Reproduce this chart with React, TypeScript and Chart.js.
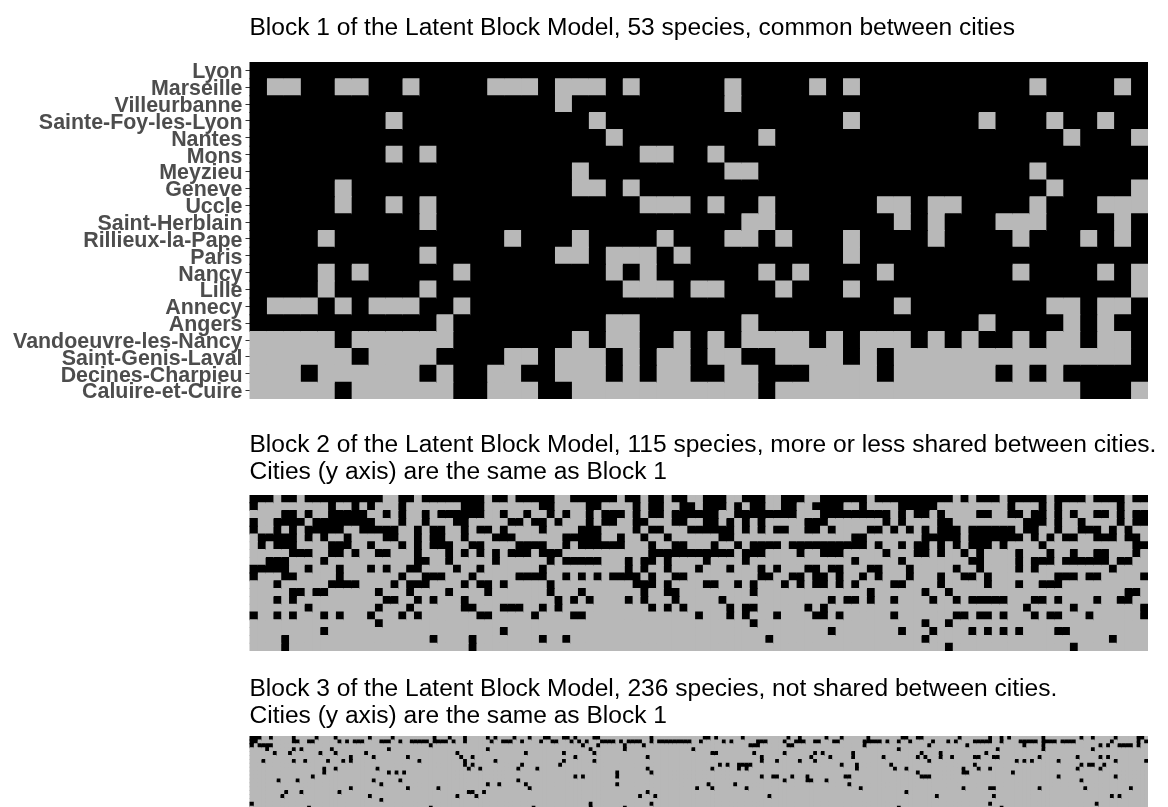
import React, { useEffect, useRef } from "react";
import { Chart, registerables } from "chart.js";

Chart.register(...registerables);

const cities = [
  "Lyon", "Marseille", "Villeurbanne", "Sainte-Foy-les-Lyon", "Nantes", "Mons", "Meyzieu", "Geneve", "Uccle", "Saint-Herblain",
  "Rillieux-la-Pape", "Paris", "Nancy", "Lille", "Annecy", "Angers", "Vandoeuvre-les-Nancy", "Saint-Genis-Laval", "Decines-Charpieu", "Caluire-et-Cuire",
];

const block1Title = "Block 1 of the Latent Block Model, 53 species, common between cities";
const block2Title = ["Block 2 of the Latent Block Model, 115 species, more or less shared between cities.", "Cities (y axis) are the same as Block 1"];
const block3Title = ["Block 3 of the Latent Block Model, 236 species, not shared between cities.", "Cities (y axis) are the same as Block 1"];

// Block 1: columns where a species is absent (grey) for the first 16 cities.
const block1AbsentTop = [
  "",
  "1 2 5 6 9 14-16 18-20 22 28 33 35 46 51",
  "18 28",
  "8 20 35 43 47 50",
  "21 30 48 52",
  "8 10 23 24 27",
  "19 28 29 46",
  "5 19 20 22 47 52",
  "5 8 10 23-25 27 30 37 38 40 41 46 50-52",
  "10 29 30 38 40 44-46 51",
  "4 15 19 24 28 29 31 35 40 45 49 51",
  "10 18 19 21-23 25 35",
  "4 6 12 21 23 30 32 37 45 50 52",
  "4 10 22-24 26 27 31 35 52",
  "1-3 5 7-9 12 38 47 48 50 51",
  "11 21 22 29 43 48 50",
];
// Block 1: columns where a species is present (black) for the last 4 cities.
const block1PresentBottom = [
  "5 12-18 20 23 24 26 28 33 35 39 41 43 44 46 49 52",
  "6 11-14 17 21 23 26 29 30 35 37 52",
  "3 10 12 13 16 17 21 23 26 27 30-32 37 44 46 48-52",
  "5 12 13 17 18 30 49-51",
];

// Block 2: columns where a species is present, per city.
const block2Present = [
  "0-2 4 5 7-16 19 20 22-29 31 32 34-38 41-46 48 49 51 52 54 55 58-60 63-65 68-70 73-78 80-89 91 93-95 97-101 103-106 108-111 113 114",
  "0 10 13 15 19 27-29 37 38 43 44 49 51 52 55 56 58-60 62 64 65 68 69 72-75 78 83-87 97 101 103 111",
  "4 5 7 10-14 17 19 22 24-29 32 35 38 40 43 45-47 49 51 52 54-59 62-69 73-81 83 85 86 88 93 94 97 98 100 101 103 105 108 109 111 113 114",
  "0 3-6 8-15 19 22 26 27 33 34 36 37 39 43 45 46 49 50 54 55 58 59 61 63 65 71-73 81 83 88 89 99-101 103 106 111 113 114",
  "0 3 5 7-11 14-18 21 23 24 27 29 30 32 37 42-44 49 51 52 56-61 63 65 67 68 71 72 74 79 80 82 84 86 88-90 92-97 99 100 103 106-108 110 112",
  "1-5 7 9 12 17 18 21 23 24 27 31-33 40-44 47 50 53 60 61 77 78 86-90 92-98 100 102 104 105 108-110 112 113",
  "1 3-5 10-12 15 19 21 23-25 28 29 34-37 40 42-47 51 54 55 59 62 64-67 69-78 80 83 85 86 88 90 92-94 96 101 113 114",
  "5-7 10 11 13 16 17 21 25 27 29 31 33-35 37-39 51-61 63-65 70 73-75 81 85 86 88 91 93 98 102 105 108 109 113",
  "2-4 9 21 22 25 31 38 40-44 48 50 51 53 58 63 77 83 92 93 98 100-102 104-109 111 112",
  "0-4 7 11 15 17 20 21 26 29 37 48 50 53 57 61 65 67 71 72 74 75 79 80 84 90 93 98 100 110",
  "0 4 5 11 19 22-24 28 34-37 40 42 44 46-49 51 54 55 65 66 69 70 72 73 75 78 80 84 88 91 92 94 103-105 107 108 114",
  "3 10-13 18 20-22 27 29 30 32 38 49-51 53 58 59 62 64 68 70 72 73 75 77 82 83 88 94 98 101-103",
  "5 6 8 9 16 20 25 30 38 42 50 53 54 64 79 86 89 112 113",
  "3 5 17 18 21 23 27 39 41 43 48 50 54 60 74 76 77 79 82 87 90 92-96 100 101 103 108 111 112",
  "7 16 20 27 28 32-34 37 39 51 53 55 61 63 64 71 73 99 105 114",
  "0 3 5 9 11 15 19 21 29 30 36 41 42 57 61 63 67 72 73 75 82 90 91 93 94 96 100 102 103 107 114",
  "16 64 86 89",
  "9 32 74 83 87 92 94 96 98 103 104",
  "4 23 28 37 40 66 86 110",
  "4 28 89 105",
];

// Block 3: columns where a species is present, per city.
const block3Present = [
  "0-2 5 11 17 22 31 37 48 52 56 62 64 69 73 77 78 82 83 85 90 91 105 119 120 122 129 141 144 151 155 162 171 172 175 176 186 194 197 199 208 218 221 227 233 234",
  "0 1 11 12 15 16 23 25 27-29 34-36 39 42-46 48-51 53 56 63 66-68 71 76 79 80 84 86 88 92-95 97 99-102 105 107-115 118 124 126 133-135 140 143-145 148 149 153 154 161-165 167 170 173 179 183 185 190-194 197 202-206 208-211 213-216 226 233 235",
  "0 2-5 47 87 91 98 103 131-133 141 142 161 178 188 203 208 223 225 228-231 233",
  "4 11 13 21 36 62 89 98 116 170 196 208 221",
  "6 10 18 22 30 54 72 82 90 121 122 132 140 148 150 158 176 181 193",
  "26 32 41 55 58 85 104 134 147 152 158 166 175 177 181 184 190 191 195 196 207 217 223 225",
  "3 11 14 20 24 26 44 56 64 82 90 134 138 144 148 178 201 203 205 212 227 235",
  "56 58 71 81 123 125 128-131 155 159 168 190 218 220 221 224",
  "19 22 33 57 60 70 75 104 121 128 130 159 169 172 187 191 194 217 223",
  "19 36 38 40 96 105 175 187 188 200",
  "16 85 87 96 134 137 138 142 146 156 157 176-178 212 227",
  "7 12 32 39 70 140 146 147 151 218",
  "34 62 65 72 96 120 127 157",
  "26 41 49 73 117 121 130 160 187 194 195 207 219 231",
  "9 13 23 57 58 61 104 172",
  "8 31 54 59 102 106 136 180 195 226 228",
  "34",
  "0 89 105 194 222",
  "15 47 74 89 98 170 197",
  "",
];

const BLACK = "#000000";
const GREY = "#b8b8b8";
const PLOT_LEFT = 249.5;
const PLOT_RIGHT = 1147.5;
const CANVAS_WIDTH = 1168;
const TITLE_FONT = { family: "'Liberation Sans', Arial, sans-serif", size: 24.55, weight: "normal" as const, lineHeight: 1.1 };

function parseColumns(row: string): Set<number> {
  const out = new Set<number>();
  row.split(" ").filter(Boolean).forEach((part) => {
    const [a, b] = part.split("-").map(Number);
    for (let i = a; i <= (b ?? a); i++) out.add(i);
  });
  return out;
}

function block1Matrix(): Set<number>[] {
  const top = block1AbsentTop.map((row) => {
    const absent = parseColumns(row);
    const present = new Set<number>();
    for (let c = 0; c < 53; c++) if (!absent.has(c)) present.add(c);
    return present;
  });
  return [...top, ...block1PresentBottom.map(parseColumns)];
}

// Nudges the city labels down to where the reference has them relative to the tick marks.
const labelNudge = {
  id: "labelNudge",
  afterLayout(chart: any) {
    const y = chart.scales.y;
    if (!y.options.display) return;
    y.getLabelItems().forEach((item: any) => {
      item.options.translation[1] += 2;
    });
  },
};

function makeConfig(present: Set<number>[], columns: number, title: string | string[], showCities: boolean, titlePadding: { top: number; bottom: number }) {
  const datasets = [];
  for (let c = 0; c < columns; c++) {
    datasets.push({
      label: "species " + (c + 1),
      data: cities.map(() => 1),
      backgroundColor: present.map((row) => (row.has(c) ? BLACK : GREY)),
      barPercentage: 1,
      categoryPercentage: 1,
      borderWidth: 0,
      inflateAmount: 0.5,
    });
  }
  return {
    type: "bar" as const,
    data: { labels: cities, datasets },
    plugins: [labelNudge],
    options: {
      indexAxis: "y" as const,
      responsive: false,
      animation: false as const,
      devicePixelRatio: 1,
      layout: { padding: { left: showCities ? 0 : PLOT_LEFT, right: 0, top: 0, bottom: 0 } },
      plugins: {
        legend: { display: false },
        tooltip: { enabled: false },
        title: {
          display: true,
          text: title,
          align: "start" as const,
          color: "#000000",
          font: TITLE_FONT,
          padding: titlePadding,
          fullSize: !showCities,
        },
      },
      scales: {
        x: { display: false, stacked: true, min: 0, max: (columns * (CANVAS_WIDTH - PLOT_LEFT)) / (PLOT_RIGHT - PLOT_LEFT) },
        y: {
          display: showCities,
          stacked: true,
          border: { display: false },
          grid: { drawOnChartArea: false, offset: false, tickLength: 4, tickColor: "#333333", tickWidth: 1 },
          ticks: {
            autoSkip: false,
            color: "#4d4d4d",
            padding: 3,
            font: { family: "'Liberation Sans', Arial, sans-serif", size: 21.4, weight: "bold" as const, lineHeight: 1 },
          },
          afterFit: (scale: { width: number; paddingTop: number; paddingBottom: number }) => {
            if (showCities) scale.width = PLOT_LEFT;
            scale.paddingTop = 0;
            scale.paddingBottom = 0;
          },
        },
      },
    },
  };
}

function Block({ config, top, height }: { config: any; top: number; height: number }) {
  const ref = useRef<HTMLCanvasElement>(null);
  useEffect(() => {
    const chart = new Chart(ref.current as HTMLCanvasElement, config);
    return () => chart.destroy();
  }, [config]);
  return <canvas ref={ref} width={CANVAS_WIDTH} height={height} style={{ position: "absolute", left: 0, top, width: CANVAS_WIDTH, height, display: "block" }} />;
}

const config1 = makeConfig(block1Matrix(), 53, block1Title, true, { top: 15, bottom: 20 });
const config2 = makeConfig(block2Present.map(parseColumns), 115, block2Title, false, { top: 7, bottom: 9 });
const config3 = makeConfig(block3Present.map(parseColumns), 236, block3Title, false, { top: 7, bottom: 6 });

export default function App() {
  return (
    <div style={{ position: "fixed", left: 0, top: 0, width: CANVAS_WIDTH, height: 807, overflow: "hidden", background: "#ffffff" }}>
      <Block config={config1} top={0} height={399} />
      <Block config={config2} top={425} height={226} />
      <Block config={config3} top={669} height={145} />
    </div>
  );
}
